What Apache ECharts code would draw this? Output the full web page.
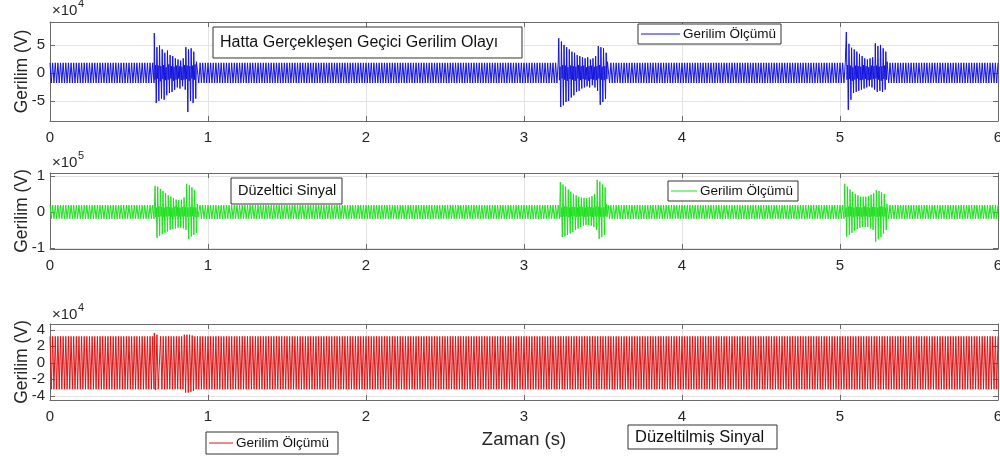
<!DOCTYPE html>
<html>
<head>
<meta charset="utf-8">
<script src="https://cdn.jsdelivr.net/npm/echarts@6/dist/echarts.min.js"></script>
<style>
	html, body { margin: 0; background: #fff; }
	#main { width: 1000px; height: 457px; }
</style>
</head>
<body>
<div id="main"></div>
<script>
// time axis (s)
const tStart = 0;
const tEnd = 6;
const peakStep = 1 / 120; // time between successive peaks of the 60 Hz wave

// steady peak amplitude of each signal (x1e4 V)
const blueSteady = 1.8;
const greenSteady = 1.9;
const redSteady = 3.2;

// transient bursts: start time (s), sample step (s) and successive values (x1e4 V)
const blueBurstStep = 1 / 240;
const blueBurstStarts = [0.66, 3.22, 5.04];
const blueBurst1 = [7.1, -1.2, 1.4, -5.4, 4.6, -1.0, 1.3, -5.0, 4.9, -1.5, 1.2, -4.6, 4.2, -1.1, 1.4, -4.8,
	3.6, -1.3, 1.0, -4.0, 4.0, -1.2, 1.5, -3.6, 3.2, -1.0, 1.2, -3.4, 3.0, -1.4, 1.1, -3.0,
	2.6, -1.2, 1.3, -2.6, 2.4, -1.0, 1.2, -2.8, 2.2, -1.3, 1.1, -2.4, 2.6, -1.2, 1.4, -3.0,
	4.6, -1.1, 1.3, -7.0, 4.2, -1.4, 1.2, -5.0, 4.4, -1.0, 1.3, -5.4, 3.8, -1.2, 1.5, -4.6, 2.0];
const blueBurst2 = [6.2, -1.3, 1.1, -6.1, 5.6, -1.0, 1.4, -5.8, 5.0, -1.2, 1.3, -5.2, 4.6, -1.4, 1.0, -5.0,
	4.2, -1.1, 1.3, -4.4, 3.8, -1.2, 1.2, -4.0, 3.6, -1.4, 1.1, -3.4, 3.2, -1.0, 1.4, -3.2, 3.0, -1.3, 1.2, -2.8, 2.8, -1.1,
	1.3, -2.6, 2.6, -1.2, 1.0, -2.4, 2.8, -1.4, 1.2, -2.6, 2.4, -1.1, 1.3, -2.2, 2.6, -1.2, 1.1, -2.6, 3.0, -1.3, 1.2, -3.2,
	4.8, -1.0, 1.4, -5.7, 4.6, -1.2, 1.1, -5.2, 4.4, -1.3, 1.2, -4.6, 3.6, -1.1, 2.0];
const blueBurst3 = [7.3, -1.2, 1.4, -6.6, 5.2, -1.1, 1.3, -4.8, 4.5, -1.4, 1.0, -3.6, 4.2, -1.2, 1.3, -3.4,
	3.8, -1.0, 1.2, -3.2, 3.4, -1.3, 1.1, -3.0,
	3.0, -1.2, 1.4, -2.8, 2.6, -1.1, 1.2, -2.6, 2.4, -1.3, 1.0, -2.4, 2.6, -1.2, 1.3, -2.6, 2.8, -1.1, 1.2,
	-3.0, 5.3, -1.0, 1.3, -3.4, 4.8, -1.2, 1.1, -3.2, 5.0, -1.4, 1.2, -3.4, 4.4, -1.1, 1.3, -3.0, 3.8, -1.2, 2.0];

const greenBurstStep = 1 / 240;
const greenBurstStarts = [0.665, 3.23, 5.03];
const greenBurst1 = [7.2, -1.4, 1.2, -7.2, 7.0, -1.3, 1.5, -6.6, 6.4, -1.2, 1.4, -6.2, 5.8, -1.5, 1.2, -5.8,
	5.2, -1.3, 1.4, -5.4, 4.6, -1.2, 1.3, -5.0, 4.2, -1.4, 1.2, -4.8, 3.8, -1.3, 1.5, -4.6,
	3.4, -1.2, 1.3, -4.4, 3.3, -1.4, 1.2, -4.4, 3.4, -1.3, 1.4, -4.6, 4.0, -1.2, 1.3, -5.0,
	7.8, -1.4, 1.2, -7.5, 7.4, -1.3, 1.4, -6.8, 6.8, -1.2, 1.3, -6.4, 6.0, -1.4, 1.2, -5.8, 2.2, -1.5];
const greenBurst2 = [8.3, -1.4, 1.2, -7.0, 7.6, -1.3, 1.5, -6.8, 7.0, -1.2, 1.4, -6.4, 6.2, -1.5, 1.2, -6.0,
	5.6, -1.3, 1.4, -5.6, 5.0, -1.2, 1.3, -5.0, 4.6, -1.4, 1.2, -4.6, 4.2, -1.3, 1.5, -4.2, 4.0, -1.2, 1.3, -3.8, 3.9, -1.4, 1.2, -3.6,
	3.8, -1.3, 1.4, -3.6, 4.0, -1.2, 1.3, -3.8, 4.4, -1.4, 1.2, -4.2, 5.0, -1.3, 1.5, -5.0,
	8.9, -1.2, 1.4, -7.5, 8.4, -1.3, 1.2, -7.0, 7.6, -1.4, 1.3, -6.4, 6.8, -1.2, 2.2, -1.4];
const greenBurst3 = [7.8, -1.4, 1.2, -6.9, 7.0, -1.3, 1.5, -6.4, 6.2, -1.2, 1.4, -5.8, 5.6, -1.5, 1.2, -5.2,
	5.0, -1.3, 1.4, -4.8, 4.6, -1.2, 1.3, -4.4, 4.2, -1.4, 1.2, -4.2, 4.2,
	-1.3, 1.5, -4.2, 4.2, -1.2, 1.3, -4.2, 4.4, -1.4, 1.2, -4.6, 4.8, -1.3, 1.4, -5.0, 5.2, -1.2,
	1.3, -8.3, 6.1, -1.4, 1.2, -7.6, 5.8, -1.3, 1.5, -7.0, 5.4, -1.2, 1.4, -6.0, 5.0, -1.3, 1.2, -5.0, 2.2];

const redBurstStep = 1 / 120;
const redBurstStarts = [0.66, 0.85];
const redBurst1 = [3.6, -3.3, 3.4, -3.2];
const redBurst2 = [3.4, -3.6, 3.4, -3.6, 3.4, -3.5, 3.3, -3.4];

// y ticks of each panel
const blueTicks = [-5, 0, 5];
const greenTicks = [-10, 0, 10]; // shown as x1e5
const redTicks = [-4, -2, 0, 2, 4];

const seriesName = 'Gerilim Ölçümü';

function buildSignal(steady, starts, bursts, step) {
	const pts = [];
	const inBurst = (t) => starts.some((s, i) => t >= s && t < s + bursts[i].length * step);
	const n = Math.round((tEnd - tStart) / peakStep);
	for (let k = 0; k <= n; k++) {
		const t = tStart + k * peakStep;
		if (!inBurst(t)) pts.push([t, (k % 2 === 0 ? 1 : -1) * steady]);
	}
	starts.forEach((s, i) => {
		bursts[i].forEach((v, j) => pts.push([s + j * step, v]));
	});
	return pts.sort((a, b) => a[0] - b[0]);
}

const blueData = buildSignal(blueSteady, blueBurstStarts, [blueBurst1, blueBurst2, blueBurst3], blueBurstStep);
const greenData = buildSignal(greenSteady, greenBurstStarts, [greenBurst1, greenBurst2, greenBurst3], greenBurstStep);
const redData = buildSignal(redSteady, redBurstStarts, [redBurst1, redBurst2], redBurstStep);

const font = 'Liberation Sans, Arial, sans-serif';
const axisColor = '#6a6a6a';
const textColor = '#262626';

const grids = [
	{ left: 50, right: 2, top: 22, height: 99, outerBoundsMode: 'none', containLabel: false },
	{ left: 50, right: 2, top: 173, height: 76, outerBoundsMode: 'none', containLabel: false },
	{ left: 50, right: 2, top: 324, height: 76, outerBoundsMode: 'none', containLabel: false }
];

const xAxes = [];
const yAxes = [];
grids.forEach((g, i) => {
	xAxes.push({
		type: 'value', gridIndex: i, min: tStart, max: tEnd, interval: 1,
		axisLine: { onZero: false, lineStyle: { color: axisColor } },
		axisTick: { inside: true, length: 5, lineStyle: { color: axisColor } },
		axisLabel: { color: textColor, fontSize: 15, fontFamily: font, margin: 9 },
		splitLine: { show: true, lineStyle: { color: '#e3e3e3' } },
		name: i === 2 ? 'Zaman (s)' : '',
		nameLocation: 'middle', nameGap: 30,
		nameTextStyle: { color: textColor, fontSize: 18.5, fontFamily: font }
	});
	xAxes.push({
		type: 'value', gridIndex: i, position: 'top', min: tStart, max: tEnd, interval: 1,
		axisLine: { onZero: false, lineStyle: { color: axisColor } },
		axisTick: { inside: true, length: 5, lineStyle: { color: axisColor } },
		axisLabel: { show: false }, splitLine: { show: false }
	});
});

const yDefs = [
	{ min: -8.6, max: 9.1, ticks: blueTicks, fmt: (v) => String(v) },
	{ min: -10.3, max: 10.8, ticks: greenTicks, fmt: (v) => String(v / 10) },
	{ min: -4.5, max: 4.7, ticks: redTicks, fmt: (v) => String(v) }
];
yDefs.forEach((d, i) => {
	yAxes.push({
		type: 'value', gridIndex: i, min: d.min, max: d.max,
		axisLine: { show: true, onZero: false, lineStyle: { color: axisColor } },
		axisTick: { show: true, inside: true, length: 5, customValues: d.ticks, lineStyle: { color: axisColor } },
		axisLabel: { customValues: d.ticks, formatter: d.fmt, color: textColor, fontSize: 15, fontFamily: font, margin: 5 },
		splitLine: { show: true, lineStyle: { color: '#e3e3e3' } },
		name: 'Gerilim (V)', nameLocation: 'middle', nameGap: 19, nameMoveOverlap: false,
		nameTextStyle: { color: textColor, fontSize: 17.5, fontFamily: font }
	});
	yAxes.push({
		type: 'value', gridIndex: i, position: 'right', min: d.min, max: d.max,
		axisLine: { show: true, onZero: false, lineStyle: { color: axisColor } },
		axisTick: { show: true, inside: true, length: 5, customValues: d.ticks, lineStyle: { color: axisColor } },
		axisLabel: { show: false }, splitLine: { show: false }
	});
});

function lineSeries(idx, data, color) {
	return {
		name: seriesName, type: 'line', xAxisIndex: idx * 2, yAxisIndex: idx * 2,
		data: data, showSymbol: false, symbol: 'none', animation: false,
		lineStyle: { color: color, width: 1 }
	};
}

function textBox(x, y, w, h, text, size) {
	return {
		type: 'group', x: x, y: y, children: [
			{ type: 'rect', z: 100, shape: { x: 0, y: 0, width: w, height: h }, style: { fill: '#fff', stroke: '#333', lineWidth: 1 } },
			{ type: 'text', z: 101, x: 7, y: h / 2, style: { text: text, fill: '#111', fontSize: size, fontFamily: font, verticalAlign: 'middle' } }
		]
	};
}

function legendBox(x, y, w, h, lineEnd, color) {
	return {
		type: 'group', x: x, y: y, children: [
			{ type: 'rect', z: 100, shape: { x: 0, y: 0, width: w, height: h }, style: { fill: '#fff', stroke: '#333', lineWidth: 1 } },
			{ type: 'line', z: 101, shape: { x1: 3, y1: h / 2, x2: lineEnd, y2: h / 2 }, style: { stroke: color, lineWidth: 1 } },
			{ type: 'text', z: 101, x: lineEnd + 3, y: h / 2, style: { text: seriesName, fill: '#111', fontSize: 13.5, fontFamily: font, verticalAlign: 'middle' } }
		]
	};
}

function exponent(x, y, power) {
	return {
		type: 'group', x: x, y: y, children: [
			{ type: 'text', x: 0, y: 0, style: { text: '×10', fill: textColor, fontSize: 15, fontFamily: font } },
			{ type: 'text', x: 26, y: -5, style: { text: power, fill: textColor, fontSize: 11, fontFamily: font } }
		]
	};
}

const myChart = echarts.init(document.getElementById('main'));
myChart.setOption({
	animation: false,
	grid: grids,
	xAxis: xAxes,
	yAxis: yAxes,
	series: [
		lineSeries(0, blueData, '#1414dc'),
		lineSeries(1, greenData, '#1ee01e'),
		lineSeries(2, redData, '#dc1414')
	],
	graphic: [
		exponent(52, 3, '4'),
		exponent(52, 155, '5'),
		exponent(52, 307, '4'),
		textBox(213, 27, 309, 31, 'Hatta Gerçekleşen Geçici Gerilim Olayı', 16),
		legendBox(638, 24, 143, 20, 42, '#1414dc'),
		textBox(231, 178, 111, 26, 'Düzeltici Sinyal', 14.5),
		legendBox(668, 181, 130, 20, 29, '#1ee01e'),
		legendBox(206, 432, 132, 22, 27, '#dc1414'),
		textBox(628, 425, 149, 24, 'Düzeltilmiş Sinyal', 16.5)
	]
});
</script>
</body>
</html>
